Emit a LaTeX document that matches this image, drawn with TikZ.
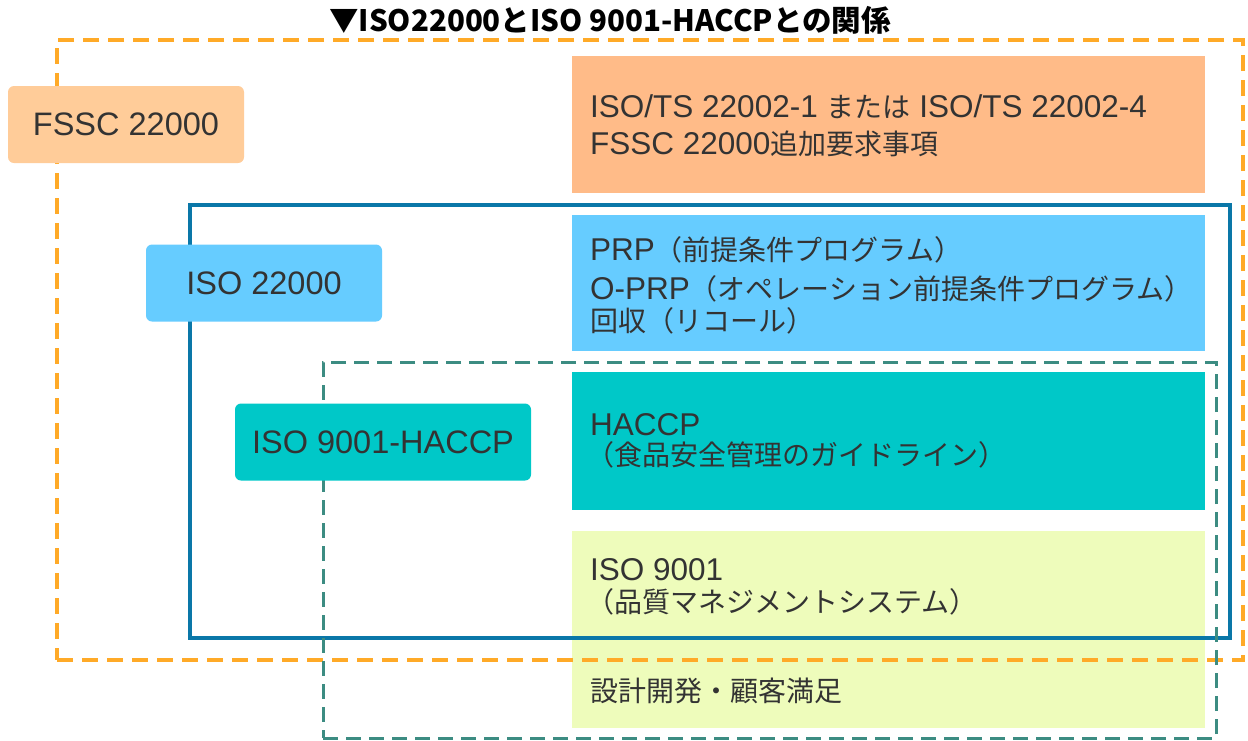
\documentclass[tikz,border=0pt]{standalone}
\usepackage{fontspec}
\setmainfont{Liberation Sans}
\newfontfamily\jpfont{Noto Sans CJK JP}
\newcommand\jt[1]{{\jpfont\fontsize{28}{33}\selectfont #1}}
\definecolor{cOrange}{RGB}{255,170,40}
\definecolor{cPeach}{RGB}{255,204,153}
\definecolor{cSalmon}{RGB}{255,187,136}
\definecolor{cBlue}{RGB}{10,119,168}
\definecolor{cSky}{RGB}{102,204,255}
\definecolor{cTealLine}{RGB}{60,140,130}
\definecolor{cTeal}{RGB}{0,200,200}
\definecolor{cLime}{RGB}{238,252,187}
\definecolor{cText}{RGB}{51,51,51}
\tikzset{
  frameorange/.style={draw=cOrange, line width=3.5pt, dash pattern=on 16pt off 9pt, inner sep=0pt, outer sep=0pt, anchor=north west},
  frameblue/.style={draw=cBlue, line width=4pt, inner sep=0pt, outer sep=0pt, anchor=north west},
  frameteal/.style={draw=cTealLine, line width=3pt, dash pattern=on 15pt off 8pt, inner sep=0pt, outer sep=0pt, anchor=north west},
  panel/.style={draw=none, inner sep=0pt, outer sep=0pt, anchor=north west},
  tag/.style={rounded corners=6pt, text=cText, font=\fontsize{32.5}{38}\selectfont, inner sep=0pt, minimum width=236pt, minimum height=77pt},
  txt/.style={anchor=base west, text=cText, font=\fontsize{31.5}{37}\selectfont, inner sep=0pt}
}
\begin{document}
\begin{tikzpicture}[x=1pt,y=-1pt]
\useasboundingbox (0,0) rectangle (1248,740);
\fill[white] (0,0) rectangle (1248,740);
% title
\node (title) [anchor=base, inner sep=0pt, text=black, font=\jpfont\bfseries\fontsize{29.5}{34}\selectfont] at (610,31) {▼ISO22000とISO 9001-HACCPとの関係};
% right panels
\node (pOrange) [panel, fill=cSalmon, minimum width=633pt, minimum height=137pt] at (572,56) {};
\node (pBlue) [panel, fill=cSky, minimum width=633pt, minimum height=136pt] at (572,215) {};
\node (pTeal) [panel, fill=cTeal, minimum width=633pt, minimum height=138pt] at (572,372) {};
\node (pLime) [panel, fill=cLime, minimum width=633pt, minimum height=197pt] at (572,531) {};
% frames
\node (fOrange) [frameorange, minimum width=1186pt, minimum height=620pt] at (57,40) {};
\node (fBlue) [frameblue, minimum width=1040pt, minimum height=433pt] at (190,205) {};
\node (fTeal) [frameteal, minimum width=893pt, minimum height=376pt] at (323,362) {};
% left tags
\node (tFssc) [tag, fill=cPeach] at (126,124.5) {FSSC 22000};
\node (tIso) [tag, fill=cSky] at (264,283) {ISO 22000};
\node (tHaccp) [tag, fill=cTeal, minimum width=296pt] at (383,442) {ISO 9001-HACCP};
% texts
\node (o1) [txt] at (590,117) {ISO/TS 22002-1 \jt{または} ISO/TS 22002-4};
\node (o2) [txt] at (590,154) {FSSC 22000\jt{追加要求事項}};
\node (b1) [txt] at (590,260) {PRP\jt{（前提条件プログラム）}};
\node (b2) [txt] at (590,299) {O-PRP\jt{（オペレーション前提条件プログラム）}};
\node (b3) [txt] at (590,331) {\jt{回収（リコール）}};
\node (h1) [txt] at (590,435) {HACCP};
\node (h2) [txt] at (586,465) {\jt{（食品安全管理のガイドライン）}};
\node (l1) [txt] at (590,580) {ISO 9001};
\node (l2) [txt] at (586,612) {\jt{（品質マネジメントシステム）}};
\node (l3) [txt] at (590,701) {\jt{設計開発・顧客満足}};
\end{tikzpicture}
\end{document}
